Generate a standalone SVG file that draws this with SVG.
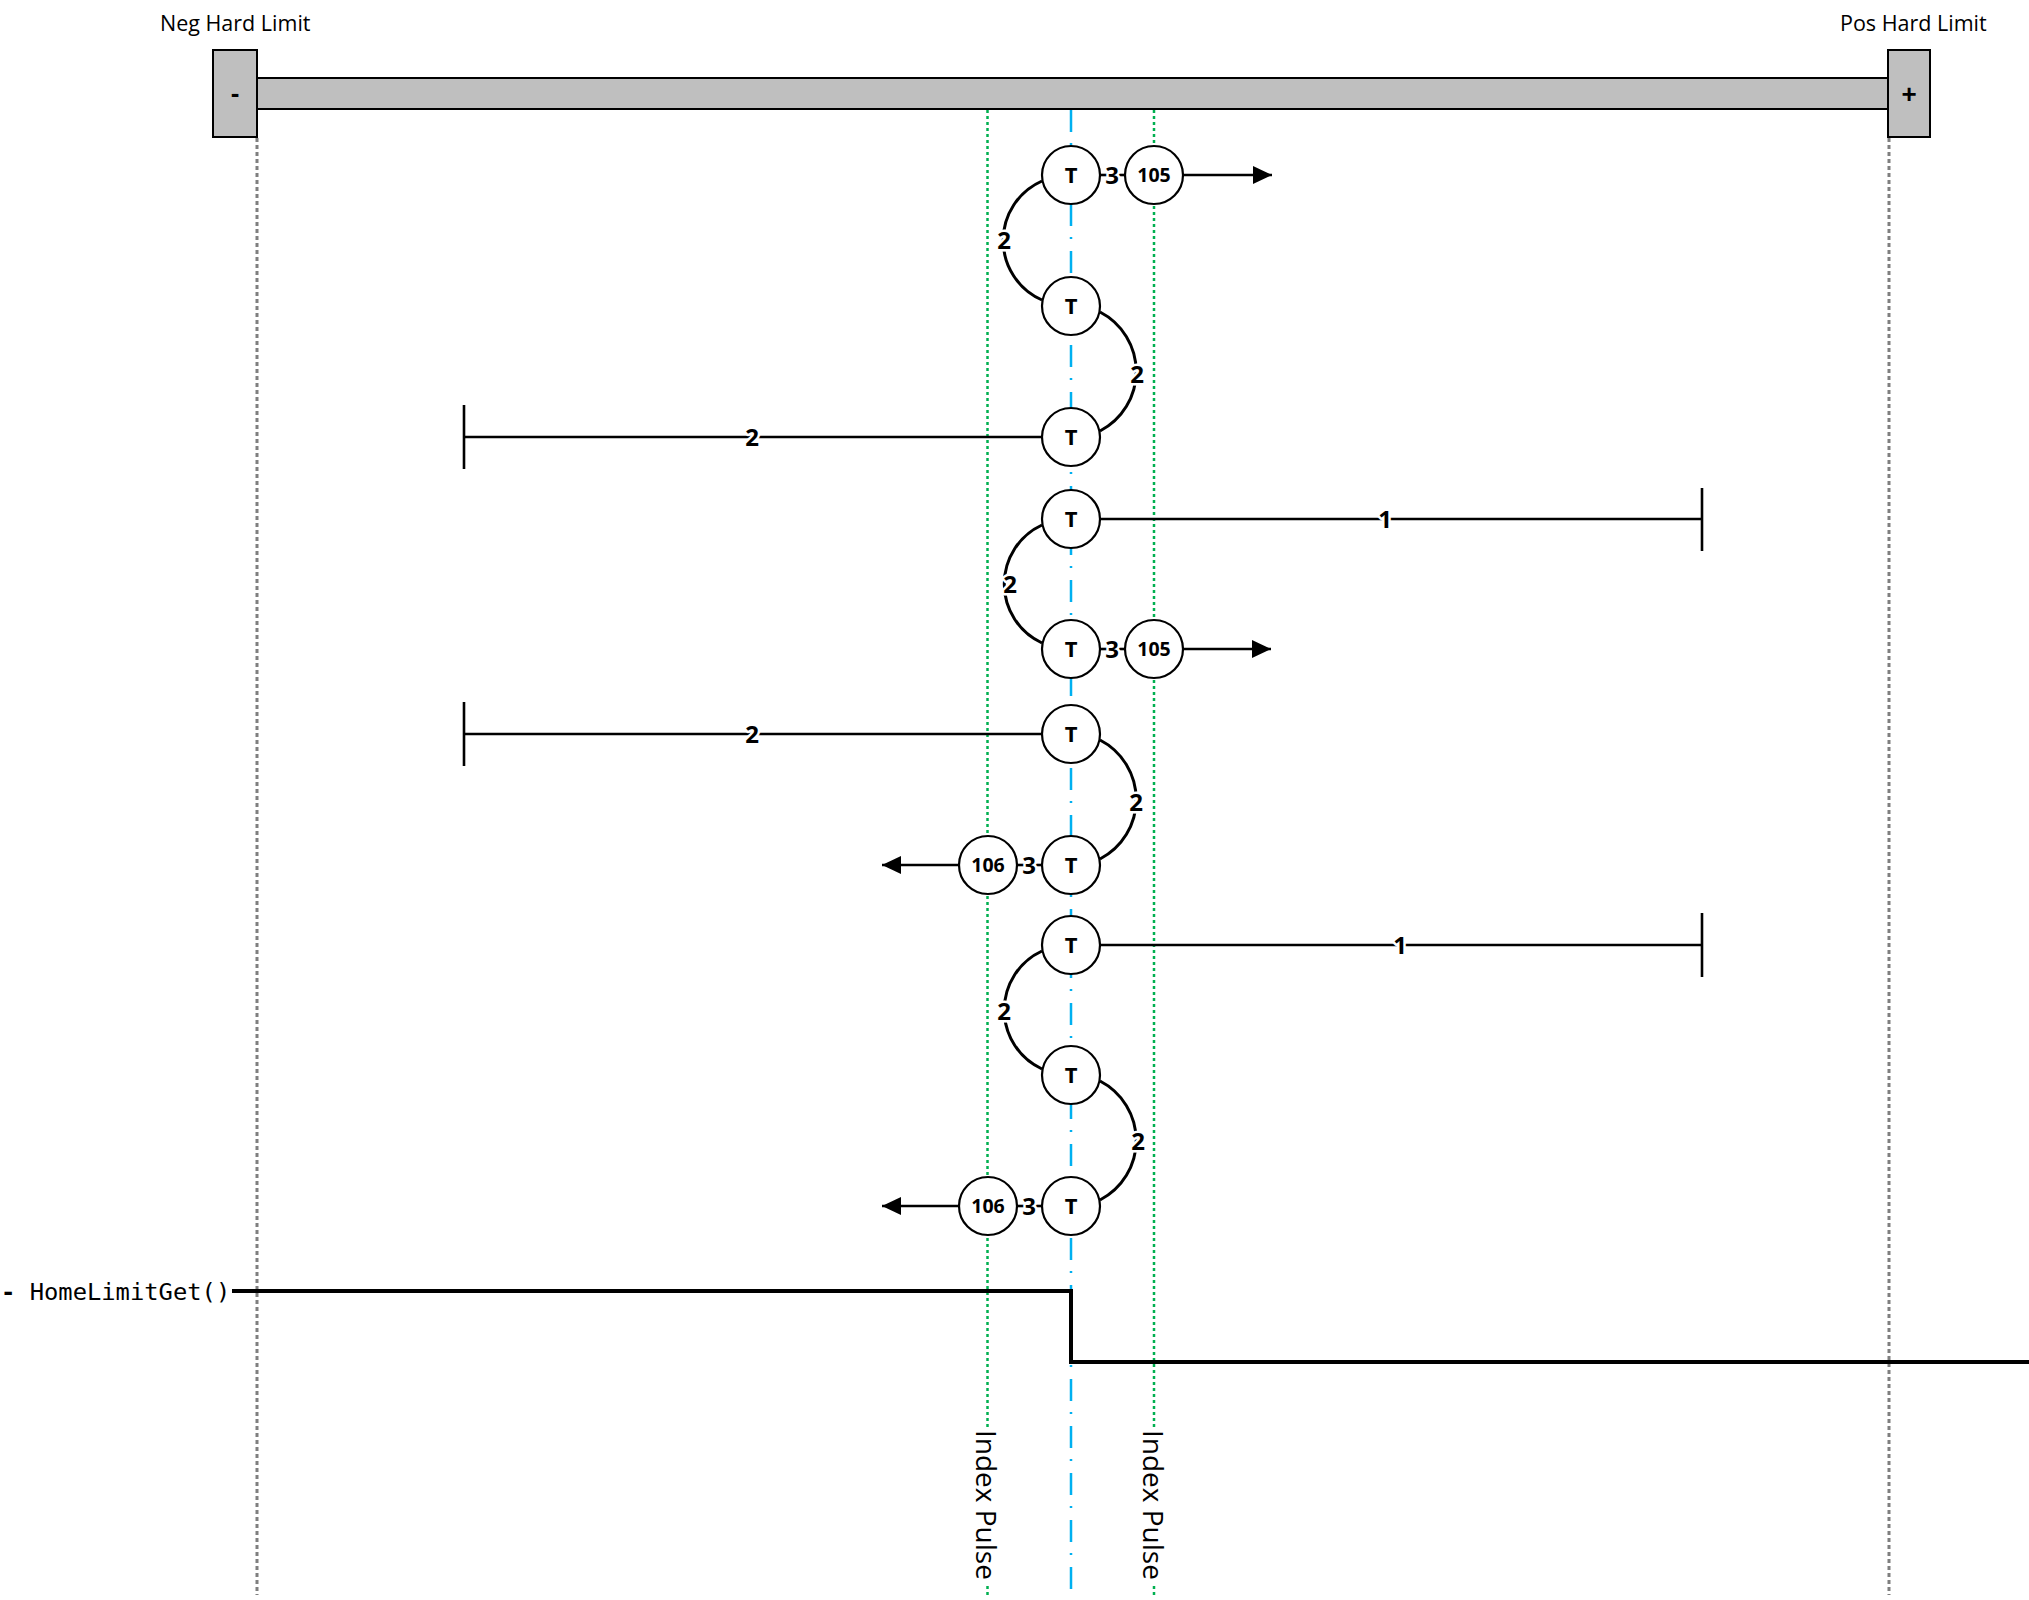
<svg xmlns="http://www.w3.org/2000/svg" width="2029" height="1600" viewBox="0 0 2029 1600">
<defs>
<style>
.lbl{font-family:"Open Sans","Liberation Sans",sans-serif;font-size:21.5px;fill:#000}
.vtxt{font-family:"Open Sans","Liberation Sans",sans-serif;font-size:28px;fill:#000}
.node circle{fill:#fff;stroke:#000;stroke-width:2.2}
.node text{font-family:"Open Sans","Liberation Sans",sans-serif;font-weight:bold;fill:#000;text-anchor:middle}
.tn{font-size:22px}
.nn{font-size:19.5px}
.conn{fill:none;stroke:#000;stroke-width:2.6}
.arc{fill:none;stroke:#000;stroke-width:3}
.el{font-family:"Open Sans","Liberation Sans",sans-serif;font-weight:bold;font-size:24px;fill:#000;text-anchor:middle;stroke:#fff;stroke-width:5;paint-order:stroke;stroke-linejoin:round}
.grey{stroke:#7f7f7f;stroke-width:3;stroke-dasharray:4 3;fill:none}
.green{stroke:#00b050;stroke-width:2.5;stroke-dasharray:3 3;fill:none}
.blue{stroke:#00b0f0;stroke-width:2.5;stroke-dasharray:22 11 2 12;fill:none}
.lim{fill:#bfbfbf;stroke:#000;stroke-width:2}
</style>
<marker id="arr" viewBox="0 0 19 18" refX="19" refY="9" markerWidth="19" markerHeight="18" markerUnits="userSpaceOnUse" orient="auto">
<path d="M0,0 L19,9 L0,18 Z" fill="#000"/>
</marker>
</defs>
<rect width="2029" height="1600" fill="#fff"/>

<g id="guides">
<line class="grey" x1="257" y1="138" x2="257" y2="1595"/>
<line class="grey" x1="1889" y1="138" x2="1889" y2="1595"/>
<line class="green" x1="987.5" y1="110" x2="987.5" y2="1595"/>
<line class="green" x1="1154" y1="110" x2="1154" y2="1595"/>
<line class="blue" x1="1071" y1="110" x2="1071" y2="1595"/>
</g>

<g id="axis">
<rect class="lim" x="257" y="78" width="1631" height="31"/>
</g>
<g id="neg-limit">
<rect class="lim" x="213" y="50" width="44" height="87"/>
<text x="235" y="102" font-family="Liberation Sans,sans-serif" font-weight="bold" font-size="26" text-anchor="middle">-</text>
<text class="lbl" x="160" y="31">Neg Hard Limit</text>
</g>
<g id="pos-limit">
<rect class="lim" x="1888" y="50" width="42" height="87"/>
<text x="1909" y="103" font-family="Liberation Sans,sans-serif" font-weight="bold" font-size="26" text-anchor="middle">+</text>
<text class="lbl" x="1840" y="31">Pos Hard Limit</text>
</g>

<g id="index-pulse-1">
<rect x="972" y="1428" width="30" height="156" fill="#fff"/>
<text class="vtxt" transform="translate(976,1430) rotate(90)" x="0" y="0">Index Pulse</text>
</g>
<g id="index-pulse-2">
<rect x="1139" y="1428" width="30" height="156" fill="#fff"/>
<text class="vtxt" transform="translate(1143,1430) rotate(90)" x="0" y="0">Index Pulse</text>
</g>

<g id="home-signal">
<text x="1" y="1300" font-family="DejaVu Sans Mono,Liberation Mono,monospace" font-size="23.8"><tspan font-weight="bold">-</tspan> HomeLimitGet()</text>
<path d="M232,1291 H1071 V1362 H2029" fill="none" stroke="#000" stroke-width="4"/>
</g>

<g id="connectors">
<path class="arc" d="M1042,181 A65,65 0 0 0 1042,300"/>
<path class="arc" d="M1100,312 A67,67 0 0 1 1100,431"/>
<path class="arc" d="M1042,525 A65,65 0 0 0 1042,643"/>
<path class="arc" d="M1100,740 A67,67 0 0 1 1100,859"/>
<path class="arc" d="M1042,951 A65,65 0 0 0 1042,1069"/>
<path class="arc" d="M1100,1081 A67,67 0 0 1 1100,1200"/>
<text class="el" x="1004" y="249">2</text>
<text class="el" x="1137" y="383">2</text>
<text class="el" x="1010" y="593">2</text>
<text class="el" x="1136" y="811">2</text>
<text class="el" x="1004" y="1020">2</text>
<text class="el" x="1138" y="1150">2</text>

<line class="conn" x1="1100" y1="175" x2="1125" y2="175"/>
<text class="el" x="1112" y="184">3</text>
<line class="conn" x1="1100" y1="649" x2="1125" y2="649"/>
<text class="el" x="1112" y="658">3</text>
<line class="conn" x1="1017" y1="865" x2="1042" y2="865"/>
<text class="el" x="1029" y="874">3</text>
<line class="conn" x1="1017" y1="1206" x2="1042" y2="1206"/>
<text class="el" x="1029" y="1215">3</text>

<line class="conn" x1="1183" y1="175" x2="1272" y2="175" marker-end="url(#arr)"/>
<line class="conn" x1="1183" y1="649" x2="1271" y2="649" marker-end="url(#arr)"/>
<line class="conn" x1="959" y1="865" x2="882" y2="865" marker-end="url(#arr)"/>
<line class="conn" x1="959" y1="1206" x2="882" y2="1206" marker-end="url(#arr)"/>

<path class="conn" d="M1042,437 H464 M464,405 V469"/>
<text class="el" x="752" y="446">2</text>
<path class="conn" d="M1100,519 H1702 M1702,488 V551"/>
<text class="el" x="1385" y="528">1</text>
<path class="conn" d="M1042,734 H464 M464,702 V766"/>
<text class="el" x="752" y="743">2</text>
<path class="conn" d="M1100,945 H1702 M1702,913 V977"/>
<text class="el" x="1400" y="954">1</text>
</g>

<g id="t1" class="node"><circle cx="1071" cy="175" r="29"/><text class="tn" x="1071" y="183">T</text></g>
<g id="n105a" class="node"><circle cx="1154" cy="175" r="29"/><text class="nn" x="1154" y="182">105</text></g>
<g id="t2" class="node"><circle cx="1071" cy="306" r="29"/><text class="tn" x="1071" y="314">T</text></g>
<g id="t3" class="node"><circle cx="1071" cy="437" r="29"/><text class="tn" x="1071" y="445">T</text></g>
<g id="t4" class="node"><circle cx="1071" cy="519" r="29"/><text class="tn" x="1071" y="527">T</text></g>
<g id="t5" class="node"><circle cx="1071" cy="649" r="29"/><text class="tn" x="1071" y="657">T</text></g>
<g id="n105b" class="node"><circle cx="1154" cy="649" r="29"/><text class="nn" x="1154" y="656">105</text></g>
<g id="t6" class="node"><circle cx="1071" cy="734" r="29"/><text class="tn" x="1071" y="742">T</text></g>
<g id="t7" class="node"><circle cx="1071" cy="865" r="29"/><text class="tn" x="1071" y="873">T</text></g>
<g id="n106a" class="node"><circle cx="988" cy="865" r="29"/><text class="nn" x="988" y="872">106</text></g>
<g id="t8" class="node"><circle cx="1071" cy="945" r="29"/><text class="tn" x="1071" y="953">T</text></g>
<g id="t9" class="node"><circle cx="1071" cy="1075" r="29"/><text class="tn" x="1071" y="1083">T</text></g>
<g id="t10" class="node"><circle cx="1071" cy="1206" r="29"/><text class="tn" x="1071" y="1214">T</text></g>
<g id="n106b" class="node"><circle cx="988" cy="1206" r="29"/><text class="nn" x="988" y="1213">106</text></g>
</svg>
